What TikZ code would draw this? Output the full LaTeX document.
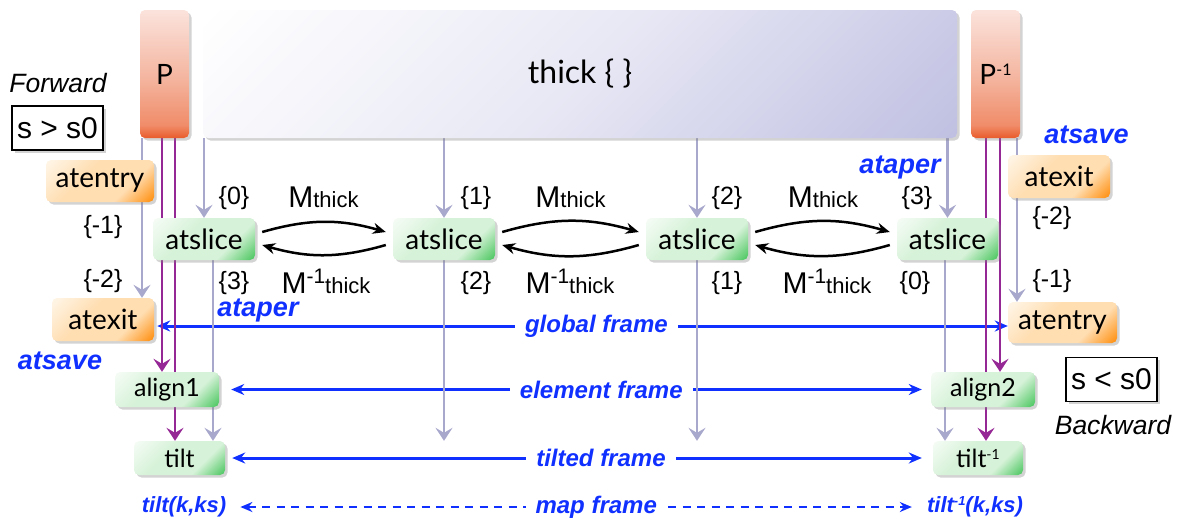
\documentclass[tikz,border=0pt]{standalone}
\usepackage{fontspec}
\setmainfont{Liberation Sans}
\newfontfamily\gillish{Lato}
\usetikzlibrary{arrows.meta,shadows,calc}
\definecolor{myblue}{RGB}{16,48,255}
\definecolor{greyarr}{RGB}{168,168,204}
\definecolor{purp}{RGB}{150,40,150}
\definecolor{gA}{RGB}{246,252,246}
\definecolor{gB}{RGB}{214,242,216}
\definecolor{gC}{RGB}{80,200,100}
\definecolor{oA}{RGB}{255,246,232}
\definecolor{oB}{RGB}{255,222,178}
\definecolor{oC}{RGB}{255,145,20}
\definecolor{rA}{RGB}{251,227,220}
\definecolor{rB}{RGB}{244,180,158}
\definecolor{rD}{RGB}{240,140,105}
\definecolor{rC}{RGB}{232,82,30}
\definecolor{lA}{RGB}{255,255,255}
\definecolor{lB}{RGB}{232,232,245}
\definecolor{lC}{RGB}{192,192,226}
\pgfdeclareverticalshading{gsh}{100bp}{color(0bp)=(gC); color(16bp)=(gC); color(34bp)=(gB); color(60bp)=(gB); color(85bp)=(gA); color(100bp)=(gA)}
\pgfdeclareverticalshading{osh}{100bp}{color(0bp)=(oC); color(16bp)=(oC); color(34bp)=(oB); color(60bp)=(oB); color(85bp)=(oA); color(100bp)=(oA)}
\pgfdeclareverticalshading{rsh}{100bp}{color(0bp)=(rC); color(24bp)=(rC); color(30bp)=(rD); color(48bp)=(rB); color(75bp)=(rA); color(100bp)=(rA)}
\pgfdeclareverticalshading{lsh}{100bp}{color(0bp)=(lC); color(15bp)=(lC); color(50bp)=(lB); color(85bp)=(lA); color(100bp)=(lA)}
\pgfdeclarelayer{bg}
\pgfsetlayers{bg,main}
\begin{document}
\begin{tikzpicture}[x=1pt,y=-1pt,
  box/.style={rounded corners=5pt, inner sep=0pt, font=\gillish\fontsize{28}{30}\selectfont,
    drop shadow={shadow xshift=2.5pt,shadow yshift=-2.5pt,opacity=0.35}},
  gbox/.style={box, shade, shading=gsh, shading angle=45},
  obox/.style={box, shade, shading=osh, shading angle=45},
  rbox/.style={box, shade, shading=rsh, shading angle=0},
  lbox/.style={box, shade, shading=lsh, shading angle=45},
  lab/.style={font=\fontsize{25}{28}\selectfont, inner sep=0pt},
  blab/.style={font=\bfseries\itshape\fontsize{27}{30}\selectfont, text=myblue, inner sep=0pt},
  flab/.style={font=\bfseries\itshape\fontsize{24}{28}\selectfont, text=myblue, fill=white, inner xsep=10pt, inner ysep=2pt},
  garr/.style={draw=greyarr, line width=2.5pt, -{Stealth[length=13pt,width=17pt,inset=5pt]}},
  parr/.style={draw=purp, line width=2.5pt, -{Stealth[length=13pt,width=17pt,inset=5pt]}},
  barr/.style={draw=myblue, line width=3pt, {Stealth[length=13pt,width=11pt]}-{Stealth[length=13pt,width=11pt]}},
  mapdash/.style={draw=myblue, line width=2.5pt, dash pattern=on 8pt off 6.5pt, {Stealth[length=12pt,width=10pt]}-{Stealth[length=12pt,width=10pt]}},
  carr/.style={draw=black, line width=2.5pt, -{Stealth[length=13pt,width=11pt]}},
  condbox/.style={draw=black, line width=1.2pt, fill=white, minimum width=91pt, minimum height=44pt, inner sep=0pt, font=\fontsize{30}{32}\selectfont,
    drop shadow={shadow xshift=2.5pt,shadow yshift=-2.5pt,opacity=0.35}}
]
\useasboundingbox (0,0) rectangle (1180,523);

% big boxes
\node[rbox, minimum width=49pt, minimum height=128pt] (P) at (164.5,74) {P};
\node[lbox, minimum width=754pt, minimum height=128pt, font=\gillish\fontsize{32}{34}\selectfont] (thick) at (580,74) {thick \{ \}};
\node[rbox, minimum width=49pt, minimum height=128pt] (Pinv) at (995.5,74) {P\raisebox{9pt}{\fontsize{16}{16}\selectfont -1}};

% side texts
\node[font=\itshape\fontsize{26.5}{28}\selectfont, inner sep=0pt] (fwd) at (58,83.5) {Forward};
\node[condbox] (cf) at (57.5,128) {s > s0};
\node[condbox] (cb) at (1111.5,379.5) {s < s0};
\node[font=\itshape\fontsize{26.5}{28}\selectfont, inner sep=0pt] (bwd) at (1113,425) {Backward};

% orange boxes
\node[obox, minimum width=108pt, minimum height=42pt] (atentryL) at (100,181) {atentry};
\node[obox, minimum width=102pt, minimum height=43pt] (atexitL) at (103,319.5) {atexit};
\node[obox, minimum width=102pt, minimum height=43pt] (atexitR) at (1059,176.5) {atexit};
\node[obox, minimum width=109pt, minimum height=41pt] (atentryR) at (1062.5,322.5) {atentry};

% green boxes
\node[gbox, minimum width=102pt, minimum height=42pt] (s1) at (204,239) {atslice};
\node[gbox, minimum width=102pt, minimum height=42pt] (s2) at (444,239) {atslice};
\node[gbox, minimum width=102pt, minimum height=42pt] (s3) at (697,239) {atslice};
\node[gbox, minimum width=101pt, minimum height=42pt] (s4) at (947.5,239) {atslice};
\node[gbox, minimum width=104pt, minimum height=35pt, font=\gillish\fontsize{25}{28}\selectfont] (align1) at (167,389.5) {align1};
\node[gbox, minimum width=104pt, minimum height=35pt, font=\gillish\fontsize{25}{28}\selectfont] (align2) at (983,389.5) {align2};
\node[gbox, minimum width=91pt, minimum height=34pt, font=\gillish\fontsize{25}{28}\selectfont] (tilt) at (179.5,458) {tilt};
\node[gbox, minimum width=90pt, minimum height=34pt, font=\gillish\fontsize{25}{28}\selectfont] (tiltinv) at (978,458) {tilt\raisebox{8pt}{\fontsize{14}{14}\selectfont -1}};

% index labels
\node[lab] (i0a) at (234,198) {\{0\}};
\node[lab] (i1a) at (476,198) {\{1\}};
\node[lab] (i2a) at (727,198) {\{2\}};
\node[lab] (i3a) at (917,198) {\{3\}};
\node[lab] (i3b) at (234,283) {\{3\}};
\node[lab] (i2b) at (476,283) {\{2\}};
\node[lab] (i1b) at (727,283) {\{1\}};
\node[lab] (i0b) at (915,283) {\{0\}};
\node[lab] (m1L) at (103,227) {\{-1\}};
\node[lab] (m2L) at (103,281) {\{-2\}};
\node[lab] (m2R) at (1052,218) {\{-2\}};
\node[lab] (m1R) at (1052,281) {\{-1\}};

% M labels
\node[inner sep=0pt] (M1) at (323.5,197) {\fontsize{30}{30}\selectfont M\fontsize{22}{22}\selectfont thick};
\node[inner sep=0pt] (M2) at (570.5,197) {\fontsize{30}{30}\selectfont M\fontsize{22}{22}\selectfont thick};
\node[inner sep=0pt] (M3) at (823,197) {\fontsize{30}{30}\selectfont M\fontsize{22}{22}\selectfont thick};
\node[inner sep=0pt] (Mi1) at (326,281) {\fontsize{30}{30}\selectfont M\raisebox{10pt}{\fontsize{21}{21}\selectfont -1}\fontsize{22}{22}\selectfont thick};
\node[inner sep=0pt] (Mi2) at (570,281) {\fontsize{30}{30}\selectfont M\raisebox{10pt}{\fontsize{21}{21}\selectfont -1}\fontsize{22}{22}\selectfont thick};
\node[inner sep=0pt] (Mi3) at (827,281) {\fontsize{30}{30}\selectfont M\raisebox{10pt}{\fontsize{21}{21}\selectfont -1}\fontsize{22}{22}\selectfont thick};

% blue words
\node[blab] (ataperL) at (258,310.5) {ataper};
\node[blab] (ataperR) at (900,167.5) {ataper};
\node[blab] (atsaveL) at (60,361) {atsave};
\node[blab] (atsaveR) at (1086.5,135) {atsave};
\node[font=\bfseries\itshape\fontsize{22}{24}\selectfont, text=myblue, inner sep=0pt] (tkL) at (184,507) {tilt(k,ks)};
\node[font=\bfseries\itshape\fontsize{22}{24}\selectfont, text=myblue, inner sep=0pt] (tkR) at (975,507) {tilt\raisebox{7pt}{\fontsize{13}{13}\selectfont -1}(k,ks)};

% x positions of vertical connectors
\coordinate (xa) at (142,0);
\coordinate (xb) at (162,0);
\coordinate (xc) at (175,0);
\coordinate (xd) at (213,0);
\coordinate (xe) at (945,0);
\coordinate (xf) at (986,0);
\coordinate (xg) at (1000,0);
\coordinate (xh) at (1017,0);
\coordinate (gy) at (0,326);

\begin{pgfonlayer}{bg}
% blue frame arrows
\draw[barr, shorten <=3pt] (atexitL.east |- gy) -- (atentryR.west |- gy)
  node[flab, pos=0.518] (gf) {global frame};
\draw[barr, shorten <=12pt, shorten >=9pt] (align1.east) -- (align2.west)
  node[flab, pos=0.537] (ef) {element frame};
\draw[barr, shorten <=7pt, shorten >=11pt] (tilt.east) -- (tiltinv.west)
  node[flab, pos=0.531] (tf) {tilted frame};
\draw[mapdash, shorten <=14pt, shorten >=15pt] (tkL.east) -- (tkR.west)
  node[flab, pos=0.528] (mf) {map frame};

% grey connectors
\draw[garr] (P.south -| xa) -- (atexitL.north -| xa);
\draw[garr] (thick.south -| s1) -- (s1.north);
\draw[garr] (s1.south -| xd) -- (tilt.north -| xd);
\draw[garr] (thick.south -| s2) -- (s2.north);
\draw[garr] (s2.south) -- (s2.south |- tilt.north);
\draw[garr] (thick.south -| s3) -- (s3.north);
\draw[garr] (s3.south) -- (s3.south |- tilt.north);
\draw[garr] (thick.south -| s4) -- (s4.north);
\draw[garr] (s4.south -| xe) -- (tiltinv.north -| xe);
\draw[garr] (Pinv.south -| xh) -- (atentryR.north -| xh);

% purple connectors
\draw[parr] (P.south -| xb) -- (align1.north -| xb);
\draw[parr] (P.south -| xc) -- (tilt.north -| xc);
\draw[parr] (Pinv.south -| xf) -- (tiltinv.north -| xf);
\draw[parr] (Pinv.south -| xg) -- (align2.north -| xg);
\end{pgfonlayer}

% curved arrows
\draw[carr] ([xshift=7pt,yshift=7pt]s1.east) to[bend left=16] ([xshift=-7pt,yshift=7pt]s2.west);
\draw[carr] ([xshift=-7pt,yshift=-6pt]s2.west) to[bend left=16] ([xshift=7pt,yshift=-6pt]s1.east);
\draw[carr] ([xshift=7pt,yshift=7pt]s2.east) to[bend left=16] ([xshift=-7pt,yshift=7pt]s3.west);
\draw[carr] ([xshift=-7pt,yshift=-6pt]s3.west) to[bend left=16] ([xshift=7pt,yshift=-6pt]s2.east);
\draw[carr] ([xshift=7pt,yshift=7pt]s3.east) to[bend left=16] ([xshift=-7pt,yshift=7pt]s4.west);
\draw[carr] ([xshift=-7pt,yshift=-6pt]s4.west) to[bend left=16] ([xshift=7pt,yshift=-6pt]s3.east);
\end{tikzpicture}
\end{document}
